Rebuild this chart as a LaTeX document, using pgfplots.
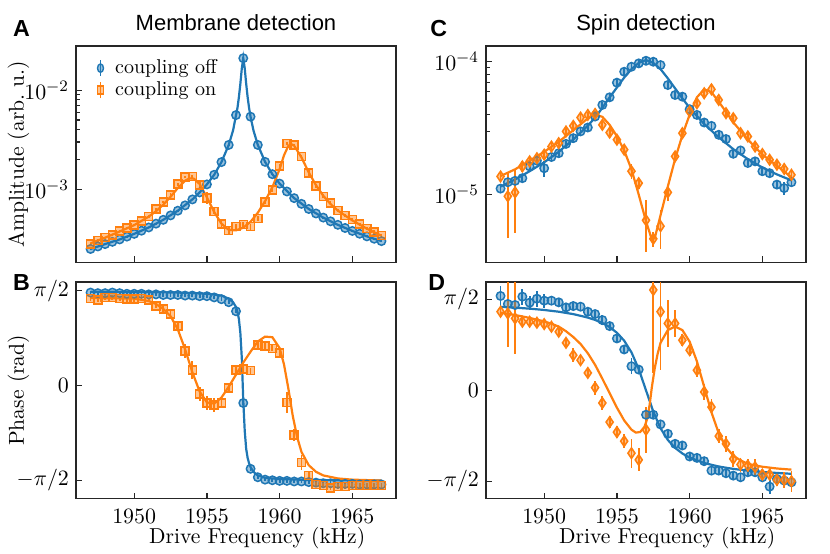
\documentclass[border=0pt]{standalone}
\usepackage{fontspec}
\usepackage{pgfplots}
\usepackage{pgfplotstable}
\pgfplotsset{compat=1.18}
\newfontfamily\sfarial{Liberation Sans}
\definecolor{cblue}{HTML}{1F77B4}
\definecolor{corange}{HTML}{FF7F0E}
\definecolor{frame}{HTML}{262626}

% ---------- panel A: membrane amplitude ----------
\pgfplotstableread{
x y e
1947 2.50e-4 5e-6
1947.5 2.65e-4 5e-6
1948 2.80e-4 6e-6
1948.5 2.95e-4 6e-6
1949 3.12e-4 6e-6
1949.5 3.33e-4 7e-6
1950 3.55e-4 7e-6
1950.5 3.82e-4 8e-6
1951 4.12e-4 8e-6
1951.5 4.50e-4 9e-6
1952 4.92e-4 1e-5
1952.5 5.45e-4 1.1e-5
1953 6.08e-4 1.2e-5
1953.5 6.88e-4 1.4e-5
1954 7.90e-4 1.6e-5
1954.5 9.30e-4 1.9e-5
1955 1.12e-3 2.2e-5
1955.5 1.40e-3 2.8e-5
1956 1.88e-3 3.8e-5
1956.5 2.80e-3 6e-5
1957 5.60e-3 1.1e-4
1957.5 2.10e-2 4e-4
1958 5.40e-3 1.1e-4
1958.5 2.80e-3 6e-5
1959 1.89e-3 3.8e-5
1959.5 1.42e-3 2.8e-5
1960 1.14e-3 2.3e-5
1960.5 9.50e-4 1.9e-5
1961 8.14e-4 1.6e-5
1961.5 7.13e-4 1.4e-5
1962 6.33e-4 1.3e-5
1962.5 5.70e-4 1.1e-5
1963 5.18e-4 1e-5
1963.5 4.75e-4 1e-5
1964 4.38e-4 9e-6
1964.5 4.07e-4 8e-6
1965 3.80e-4 8e-6
1965.5 3.56e-4 7e-6
1966 3.35e-4 7e-6
1966.5 3.17e-4 6e-6
1967 3.00e-4 6e-6
}\Ablue
\pgfplotstableread{
x y
1947 2.50e-4
1948 2.80e-4
1949 3.12e-4
1950 3.55e-4
1951 4.12e-4
1952 4.92e-4
1953 6.08e-4
1954 7.90e-4
1954.5 9.30e-4
1955 1.12e-3
1955.5 1.40e-3
1956 1.88e-3
1956.5 2.80e-3
1956.8 3.93e-3
1957 5.60e-3
1957.1 6.60e-3
1957.2 8.50e-3
1957.3 1.16e-2
1957.4 1.66e-2
1957.5 2.10e-2
1957.6 1.66e-2
1957.7 1.16e-2
1957.8 8.50e-3
1957.9 6.60e-3
1958 5.40e-3
1958.2 3.93e-3
1958.5 2.80e-3
1959 1.89e-3
1959.5 1.42e-3
1960 1.14e-3
1961 8.14e-4
1962 6.33e-4
1963 5.18e-4
1964 4.38e-4
1965 3.80e-4
1966 3.35e-4
1967 3.00e-4
}\Abluefit
\pgfplotstableread{
x y e
1947 2.82e-4 6e-6
1947.5 3.05e-4 8e-6
1948 3.25e-4 8e-6
1948.5 3.45e-4 8e-6
1949 3.78e-4 1e-5
1949.5 4.08e-4 1e-5
1950 4.35e-4 1e-5
1950.5 4.80e-4 1.2e-5
1951 5.33e-4 1.5e-5
1951.5 6.30e-4 2e-5
1952 7.40e-4 2e-5
1952.5 8.80e-4 3e-5
1953 1.13e-3 4e-5
1953.5 1.33e-3 4e-5
1954 1.35e-3 5e-5
1954.5 1.10e-3 1.2e-4
1955 8.20e-4 1.1e-4
1955.5 6.00e-4 4e-5
1956 4.45e-4 3e-5
1956.5 3.85e-4 3e-5
1957 4.20e-4 3e-5
1957.5 4.43e-4 3e-5
1958 4.20e-4 3e-5
1958.5 5.05e-4 3e-5
1959 7.40e-4 3e-5
1959.5 9.80e-4 4e-5
1960 1.72e-3 6e-5
1960.5 2.90e-3 8e-5
1961 2.80e-3 8e-5
1961.5 2.15e-3 8e-5
1962 1.46e-3 1e-4
1962.5 1.08e-3 5e-5
1963 8.50e-4 4e-5
1963.5 7.30e-4 3e-5
1964 6.10e-4 2e-5
1964.5 5.45e-4 2e-5
1965 4.95e-4 2e-5
1965.5 4.45e-4 1.5e-5
1966 4.00e-4 1.5e-5
1966.5 3.70e-4 1.5e-5
1967 3.43e-4 1.5e-5
}\Aorange
\pgfplotstableread{
x y
1947 2.85e-4
1948 3.25e-4
1949 3.75e-4
1950 4.35e-4
1951 5.30e-4
1951.5 6.00e-4
1952 7.00e-4
1952.5 8.40e-4
1953 1.03e-3
1953.5 1.22e-3
1953.8 1.29e-3
1954.1 1.28e-3
1954.5 1.13e-3
1955 8.30e-4
1955.5 5.90e-4
1956 4.50e-4
1956.5 3.90e-4
1957 3.85e-4
1957.5 4.10e-4
1958 4.70e-4
1958.5 5.80e-4
1959 7.60e-4
1959.5 1.05e-3
1960 1.60e-3
1960.3 2.20e-3
1960.6 2.75e-3
1960.8 2.85e-3
1961 2.75e-3
1961.5 2.10e-3
1962 1.48e-3
1962.5 1.10e-3
1963 8.60e-4
1963.5 7.10e-4
1964 6.10e-4
1965 4.85e-4
1966 4.00e-4
1967 3.40e-4
}\Aorangefit

% ---------- panel B: membrane phase ----------
\pgfplotstableread{
x y e
1947 1.54 0.03
1947.5 1.53 0.03
1948 1.53 0.03
1948.5 1.54 0.03
1949 1.53 0.03
1949.5 1.52 0.03
1950 1.52 0.03
1950.5 1.52 0.03
1951 1.51 0.03
1951.5 1.51 0.03
1952 1.50 0.03
1952.5 1.50 0.03
1953 1.50 0.03
1953.5 1.49 0.03
1954 1.49 0.03
1954.5 1.48 0.03
1955 1.48 0.03
1955.5 1.46 0.03
1956 1.43 0.03
1956.5 1.38 0.03
1957 1.23 0.03
1957.5 -0.29 0.03
1958 -1.38 0.03
1958.5 -1.52 0.03
1959 -1.56 0.03
1959.5 -1.57 0.03
1960 -1.58 0.03
1960.5 -1.58 0.03
1961 -1.59 0.03
1961.5 -1.59 0.03
1962 -1.60 0.03
1962.5 -1.61 0.03
1963 -1.62 0.03
1963.5 -1.62 0.03
1964 -1.63 0.03
1964.5 -1.63 0.03
1965 -1.63 0.03
1965.5 -1.64 0.03
1966 -1.64 0.03
1966.5 -1.64 0.03
1967 -1.64 0.03
}\Bblue
\pgfplotstableread{
x y
1947 1.555
1950 1.55
1953 1.54
1955 1.52
1956 1.49
1956.5 1.44
1956.8 1.38
1957 1.30
1957.1 1.22
1957.2 1.10
1957.3 0.87
1957.4 0.45
1957.45 0.10
1957.5 -0.25
1957.55 -0.50
1957.6 -0.75
1957.7 -1.05
1957.8 -1.20
1957.9 -1.29
1958 -1.35
1958.2 -1.43
1958.5 -1.49
1959 -1.53
1960 -1.55
1962 -1.565
1967 -1.575
}\Bbluefit
\pgfplotstableread{
x y e
1947 1.444 0.04
1947.5 1.416 0.04
1948 1.46 0.04
1948.5 1.455 0.04
1949 1.444 0.04
1949.5 1.43 0.04
1950 1.43 0.04
1950.5 1.444 0.04
1951 1.416 0.04
1951.5 1.317 0.04
1952 1.268 0.05
1952.5 1.185 0.05
1953 0.987 0.05
1953.5 0.573 0.12
1954 0.259 0.15
1954.5 -0.143 0.12
1955 -0.292 0.12
1955.5 -0.32 0.12
1956 -0.29 0.08
1956.5 -0.044 0.06
1957 0.259 0.05
1957.5 0.27 0.05
1958 0.248 0.05
1958.5 0.672 0.05
1959 0.656 0.05
1959.5 0.617 0.05
1960 0.535 0.06
1960.5 -0.281 0.18
1961 -0.816 0.10
1961.5 -1.273 0.12
1962 -1.494 0.06
1962.5 -1.642 0.04
1963 -1.659 0.04
1963.5 -1.698 0.04
1964 -1.67 0.04
1964.5 -1.67 0.04
1965 -1.66 0.04
1965.5 -1.66 0.04
1966 -1.66 0.04
1966.5 -1.66 0.04
1967 -1.66 0.04
}\Borange
\pgfplotstableread{
x y
1947 1.45
1950 1.44
1951 1.40
1951.5 1.35
1952 1.27
1952.5 1.15
1953 0.93
1953.5 0.60
1954 0.22
1954.5 -0.10
1955 -0.28
1955.5 -0.30
1956 -0.20
1956.5 -0.02
1957 0.18
1957.5 0.38
1958 0.56
1958.5 0.73
1959 0.81
1959.5 0.80
1960 0.62
1960.3 0.35
1960.6 -0.05
1960.9 -0.50
1961.2 -0.85
1961.5 -1.10
1962 -1.32
1962.5 -1.43
1963 -1.49
1964 -1.54
1965 -1.56
1967 -1.575
}\Borangefit

% ---------- panel C: spin amplitude ----------
\pgfplotstableread{
x y e
1947 1.11e-5 7e-7
1947.5 1.24e-5 8e-7
1948 1.27e-5 8e-7
1948.5 1.33e-5 9e-7
1949 1.63e-5 1e-6
1949.5 1.80e-5 1e-6
1950 1.58e-5 2.2e-6
1950.5 1.92e-5 1.2e-6
1951 2.05e-5 1.2e-6
1951.5 2.41e-5 1.4e-6
1952 2.66e-5 1.6e-6
1952.5 2.99e-5 1.8e-6
1953 3.20e-5 1.9e-6
1953.5 3.87e-5 2.3e-6
1954 4.73e-5 2.8e-6
1954.5 5.40e-5 3.2e-6
1955 6.96e-5 4e-6
1955.5 8.41e-5 5e-6
1956 9.17e-5 5.5e-6
1956.5 9.72e-5 5.8e-6
1957 1.017e-4 6e-6
1957.5 1.00e-4 6e-6
1958 9.44e-5 5.7e-6
1958.5 6.68e-5 4e-6
1959 5.62e-5 3.4e-6
1959.5 5.46e-5 3.3e-6
1960 4.39e-5 2.6e-6
1960.5 3.98e-5 2.4e-6
1961 3.49e-5 2.1e-6
1961.5 3.29e-5 2e-6
1962 2.82e-5 1.7e-6
1962.5 2.62e-5 1.6e-6
1963 2.03e-5 1.2e-6
1963.5 2.15e-5 1.3e-6
1964 1.73e-5 1e-6
1964.5 1.78e-5 1.1e-6
1965 1.50e-5 9e-7
1965.5 1.45e-5 9e-7
1966 1.19e-5 9e-7
1966.5 1.12e-5 1.2e-6
1967 1.24e-5 8e-7
}\Cblue
\pgfplotstableread{
x y
1947 1.15e-5
1948 1.30e-5
1949 1.50e-5
1950 1.75e-5
1951 2.10e-5
1952 2.60e-5
1953 3.30e-5
1953.5 3.80e-5
1954 4.50e-5
1954.5 5.40e-5
1955 6.40e-5
1955.5 7.60e-5
1956 8.80e-5
1956.5 9.80e-5
1957 1.03e-4
1957.5 9.80e-5
1958 8.80e-5
1958.5 7.50e-5
1959 6.30e-5
1959.5 5.30e-5
1960 4.50e-5
1960.5 3.90e-5
1961 3.40e-5
1962 2.70e-5
1963 2.20e-5
1964 1.85e-5
1965 1.60e-5
1966 1.42e-5
1967 1.28e-5
}\Cbluefit
\pgfplotstableread{
x y e
1947 1.37e-5 9e-7
1947.5 9.72e-6 5e-6
1948 1.04e-5 5.3e-6
1948.5 1.63e-5 1.5e-6
1949 1.78e-5 1.1e-6
1949.5 1.88e-5 1.1e-6
1950 2.00e-5 1.2e-6
1950.5 2.30e-5 1.4e-6
1951 2.44e-5 1.5e-6
1951.5 2.99e-5 1.8e-6
1952 3.29e-5 2e-6
1952.5 3.80e-5 2.3e-6
1953 3.98e-5 2.4e-6
1953.5 4.05e-5 2.4e-6
1954 3.35e-5 2.5e-6
1954.5 2.93e-5 1.8e-6
1955 2.59e-5 1.6e-6
1955.5 2.18e-5 1.5e-6
1956 1.50e-5 2e-6
1956.5 1.22e-5 1.2e-6
1957 6.42e-6 2.7e-6
1957.5 4.65e-6 6e-7
1958 5.79e-6 1.9e-6
1958.5 1.04e-5 1.5e-6
1959 1.94e-5 1.2e-6
1959.5 2.90e-5 1.7e-6
1960 4.22e-5 3e-6
1960.5 4.87e-5 2.9e-6
1961 5.79e-5 3.5e-6
1961.5 6.20e-5 3.7e-6
1962 5.16e-5 3.1e-6
1962.5 4.10e-5 3e-6
1963 3.76e-5 2.3e-6
1963.5 2.90e-5 2e-6
1964 2.74e-5 1.6e-6
1964.5 2.30e-5 1.4e-6
1965 2.02e-5 1.2e-6
1965.5 1.83e-5 1.1e-6
1966 1.68e-5 1e-6
1966.5 1.56e-5 9e-7
1967 1.41e-5 9e-7
}\Corange
\pgfplotstableread{
x y
1947 1.38e-5
1948 1.55e-5
1949 1.80e-5
1950 2.10e-5
1951 2.50e-5
1952 3.05e-5
1953 3.75e-5
1953.5 4.00e-5
1954 3.85e-5
1954.5 3.35e-5
1955 2.75e-5
1955.5 2.15e-5
1956 1.55e-5
1956.5 1.00e-5
1957 6.30e-6
1957.4 4.60e-6
1957.6 4.70e-6
1958 7.00e-6
1958.5 1.15e-5
1959 1.85e-5
1959.5 2.80e-5
1960 4.00e-5
1960.5 5.40e-5
1961 6.20e-5
1961.5 5.90e-5
1962 5.00e-5
1962.5 4.20e-5
1963 3.50e-5
1964 2.60e-5
1965 2.00e-5
1966 1.65e-5
1967 1.35e-5
}\Corangefit

% ---------- panel D: spin phase ----------
\pgfplotstableread{
x y e
1947 1.629 0.17
1947.5 1.490 0.10
1948 1.473 0.08
1948.5 1.617 0.14
1949 1.513 0.12
1949.5 1.582 0.14
1950 1.548 0.12
1950.5 1.548 0.08
1951 1.519 0.06
1951.5 1.432 0.06
1952 1.455 0.06
1952.5 1.444 0.06
1953 1.357 0.06
1953.5 1.317 0.06
1954 1.213 0.08
1954.5 1.109 0.06
1955 0.895 0.06
1955.5 0.705 0.08
1956 0.416 0.14
1956.5 0.358 0.06
1957 -0.422 0.06
1957.5 -0.422 0.06
1958 -0.589 0.06
1958.5 -0.751 0.08
1959 -0.924 0.06
1959.5 -0.953 0.06
1960 -1.143 0.06
1960.5 -1.167 0.06
1961 -1.224 0.06
1961.5 -1.386 0.06
1962 -1.386 0.06
1962.5 -1.432 0.08
1963 -1.473 0.06
1963.5 -1.502 0.06
1964 -1.415 0.08
1964.5 -1.415 0.08
1965 -1.502 0.06
1965.5 -1.663 0.12
1966 -1.530 0.12
1966.5 -1.559 0.06
1967 -1.588 0.14
}\Dblue
\pgfplotstableread{
x y
1947 1.442
1948 1.427
1949 1.410
1950 1.387
1951 1.357
1952 1.316
1953 1.256
1953.5 1.215
1954 1.162
1954.5 1.091
1955 0.994
1955.5 0.857
1956 0.656
1956.5 0.367
1957 0.0
1957.5 -0.367
1958 -0.656
1958.5 -0.857
1959 -0.994
1959.5 -1.091
1960 -1.162
1961 -1.256
1962 -1.316
1963 -1.357
1964 -1.387
1965 -1.410
1966 -1.427
1967 -1.442
}\Dbluefit
\pgfplotstableread{
x y e
1947 1.357 0.10
1947.5 1.328 0.58
1948 1.242 0.62
1948.5 1.184 0.08
1949 1.184 0.08
1949.5 1.167 0.08
1950 1.143 0.08
1950.5 1.097 0.08
1951 1.011 0.08
1951.5 0.820 0.08
1952 0.606 0.12
1952.5 0.520 0.08
1953 0.300 0.08
1953.5 0.046 0.12
1954 -0.219 0.12
1954.5 -0.549 0.10
1955 -0.722 0.10
1955.5 -0.878 0.12
1956 -1.086 0.25
1956.5 -1.201 0.20
1957 -0.681 0.40
1957.5 1.733 1.44
1958 1.357 1.00
1958.5 1.155 0.40
1959 1.155 0.23
1959.5 0.866 0.10
1960 0.693 0.10
1960.5 0.347 0.12
1961 -0.029 0.14
1961.5 -0.289 0.14
1962 -0.791 0.12
1962.5 -0.924 0.14
1963 -1.184 0.14
1963.5 -1.282 0.12
1964 -1.299 0.12
1964.5 -1.328 0.14
1965 -1.455 0.10
1965.5 -1.455 0.10
1966 -1.548 0.10
1966.5 -1.548 0.14
1967 -1.571 0.18
}\Dorange
\pgfplotstableread{
x y
1947 1.34
1948 1.30
1949 1.25
1950 1.19
1950.5 1.15
1951 1.10
1951.5 1.02
1952 0.92
1952.5 0.80
1953 0.64
1953.5 0.44
1954 0.20
1954.5 -0.05
1955 -0.30
1955.5 -0.52
1956 -0.68
1956.3 -0.73
1956.6 -0.72
1956.9 -0.63
1957.1 -0.48
1957.25 -0.25
1957.4 0.05
1957.6 0.38
1957.8 0.63
1958 0.82
1958.5 1.04
1959 1.10
1959.5 1.04
1960 0.84
1960.5 0.50
1961 0.06
1961.5 -0.38
1962 -0.74
1962.5 -0.98
1963 -1.13
1963.5 -1.21
1964 -1.27
1965 -1.32
1966 -1.35
1967 -1.37
}\Dorangefit

\pgfplotsset{
  panel/.style={
    scale only axis, width=160pt, height=108.3pt,
    xmin=1946, xmax=1968,
    xtick={1950,1955,1960,1965},
    tick align=inside, xtick pos=left, ytick pos=left,
    axis line style={frame, line width=0.75pt},
    major tick length=3pt, minor tick length=1.8pt,
    every tick/.append style={frame, line width=0.6pt},
    tick label style={font=\fontsize{10.8}{12}\selectfont},
    xticklabel style={yshift=-2pt},
    label style={font=\fontsize{10.8}{13}\selectfont},
    ylabel style={at={(axis description cs:-0.18,0.5)}, anchor=center},
    xlabel style={at={(axis description cs:0.566,0)}, anchor=base, yshift=-22.5pt},
  },
  fitline/.style={line width=1.1pt, forget plot},
  datapts/.style={only marks, forget plot,
    error bars/.cd, y dir=both, y explicit, error mark=none,
    error bar style={line width=0.9pt}},
  bcirc/.style={cblue, mark=*, mark size=2.1pt,
    mark options={draw=cblue, fill=cblue, fill opacity=0.45, line width=0.75pt}},
  osq/.style={corange, mark=square*, mark size=2pt,
    mark options={draw=corange, fill=corange, fill opacity=0.45, line width=0.75pt}},
  odia/.style={corange, mark=diamond*, mark size=2.6pt,
    mark options={draw=corange, fill=corange, fill opacity=0.45, line width=0.8pt, xscale=0.9}},
}

\begin{document}
\begin{tikzpicture}
\useasboundingbox (0,0) rectangle (415pt,276.5pt);

% A
\begin{axis}[panel, at={(38pt,145.3pt)}, anchor=south west,
  ymode=log, ymin=1.83e-4, ymax=2.8e-2, ytick={1e-3,1e-2},
  xticklabels={},
  ylabel={Amplitude (arb.\ u.)},
  legend style={draw=none, fill=none, at={(axis description cs:0.045,0.975)},
    anchor=north west, font=\fontsize{10}{12}\selectfont, row sep=-1.5pt,
    /tikz/every odd column/.append style={column sep=3.5pt}},
  legend cell align=left]
\addplot[cblue, fitline] table {\Abluefit};
\addplot[bcirc, datapts] table[x=x, y=y, y error=e] {\Ablue};
\addplot[corange, fitline] table {\Aorangefit};
\addplot[osq, datapts] table[x=x, y=y, y error=e] {\Aorange};
\addlegendimage{legend image code/.code={
  \draw[cblue, line width=0.9pt] (0pt,-4pt) -- (0pt,4pt);
  \draw[cblue, fill=cblue, fill opacity=0.45, line width=0.7pt] (0pt,0pt) ellipse (1.5pt and 2.1pt);}}
\addlegendentry{coupling off}
\addlegendimage{legend image code/.code={
  \draw[corange, line width=0.9pt] (0pt,-4pt) -- (0pt,4pt);
  \draw[corange, fill=corange, fill opacity=0.45, line width=0.7pt] (-1.5pt,-2pt) rectangle (1.5pt,2pt);}}
\addlegendentry{coupling on}
\end{axis}

% B
\begin{axis}[panel, at={(38pt,27.2pt)}, anchor=south west,
  ymin=-1.874, ymax=1.715,
  ytick={-1.5708,0,1.5708}, yticklabels={$-\pi/2$,$0$,$\pi/2$},
  ylabel={Phase (rad)}, xlabel={Drive Frequency (kHz)},
  xticklabel style={/pgf/number format/1000 sep={}}]
\addplot[cblue, fitline] table {\Bbluefit};
\addplot[bcirc, datapts] table[x=x, y=y, y error=e] {\Bblue};
\addplot[corange, fitline] table {\Borangefit};
\addplot[osq, datapts] table[x=x, y=y, y error=e] {\Borange};
\end{axis}

% C
\begin{axis}[panel, at={(243pt,145.3pt)}, anchor=south west,
  ymode=log, ymin=3.09e-6, ymax=1.318e-4, ytick={1e-5,1e-4},
  xticklabels={}]
\addplot[cblue, fitline] table {\Cbluefit};
\addplot[bcirc, datapts] table[x=x, y=y, y error=e] {\Cblue};
\addplot[corange, fitline] table {\Corangefit};
\addplot[odia, datapts] table[x=x, y=y, y error=e] {\Corange};
\end{axis}

% D
\begin{axis}[panel, at={(243pt,27.2pt)}, anchor=south west,
  ymin=-1.870, ymax=1.870,
  ytick={-1.5708,0,1.5708}, yticklabels={$-\pi/2$,$0$,$\pi/2$},
  xlabel={Drive Frequency (kHz)},
  xticklabel style={/pgf/number format/1000 sep={}}]
\addplot[cblue, fitline] table {\Dbluefit};
\addplot[bcirc, datapts] table[x=x, y=y, y error=e] {\Dblue};
\addplot[corange, fitline] table {\Dorangefit};
\addplot[odia, datapts] table[x=x, y=y, y error=e] {\Dorange};
\end{axis}

% titles and panel letters
\node[anchor=base, font=\sfarial\fontsize{11}{13}\selectfont] at (118pt,261.5pt) {Membrane detection};
\node[anchor=base, font=\sfarial\fontsize{11}{13}\selectfont] at (323pt,261.5pt) {Spin detection};
\node[anchor=base west, inner sep=0pt, font=\sfarial\bfseries\fontsize{11.6}{13}\selectfont] at (6.3pt,258.3pt) {A};
\node[anchor=base west, inner sep=0pt, font=\sfarial\bfseries\fontsize{11.6}{13}\selectfont] at (6.3pt,131.2pt) {B};
\node[anchor=base west, inner sep=0pt, font=\sfarial\bfseries\fontsize{11.6}{13}\selectfont] at (215pt,258.3pt) {C};
\node[anchor=base west, inner sep=0pt, font=\sfarial\bfseries\fontsize{11.6}{13}\selectfont] at (214pt,131.2pt) {D};
\end{tikzpicture}
\end{document}
